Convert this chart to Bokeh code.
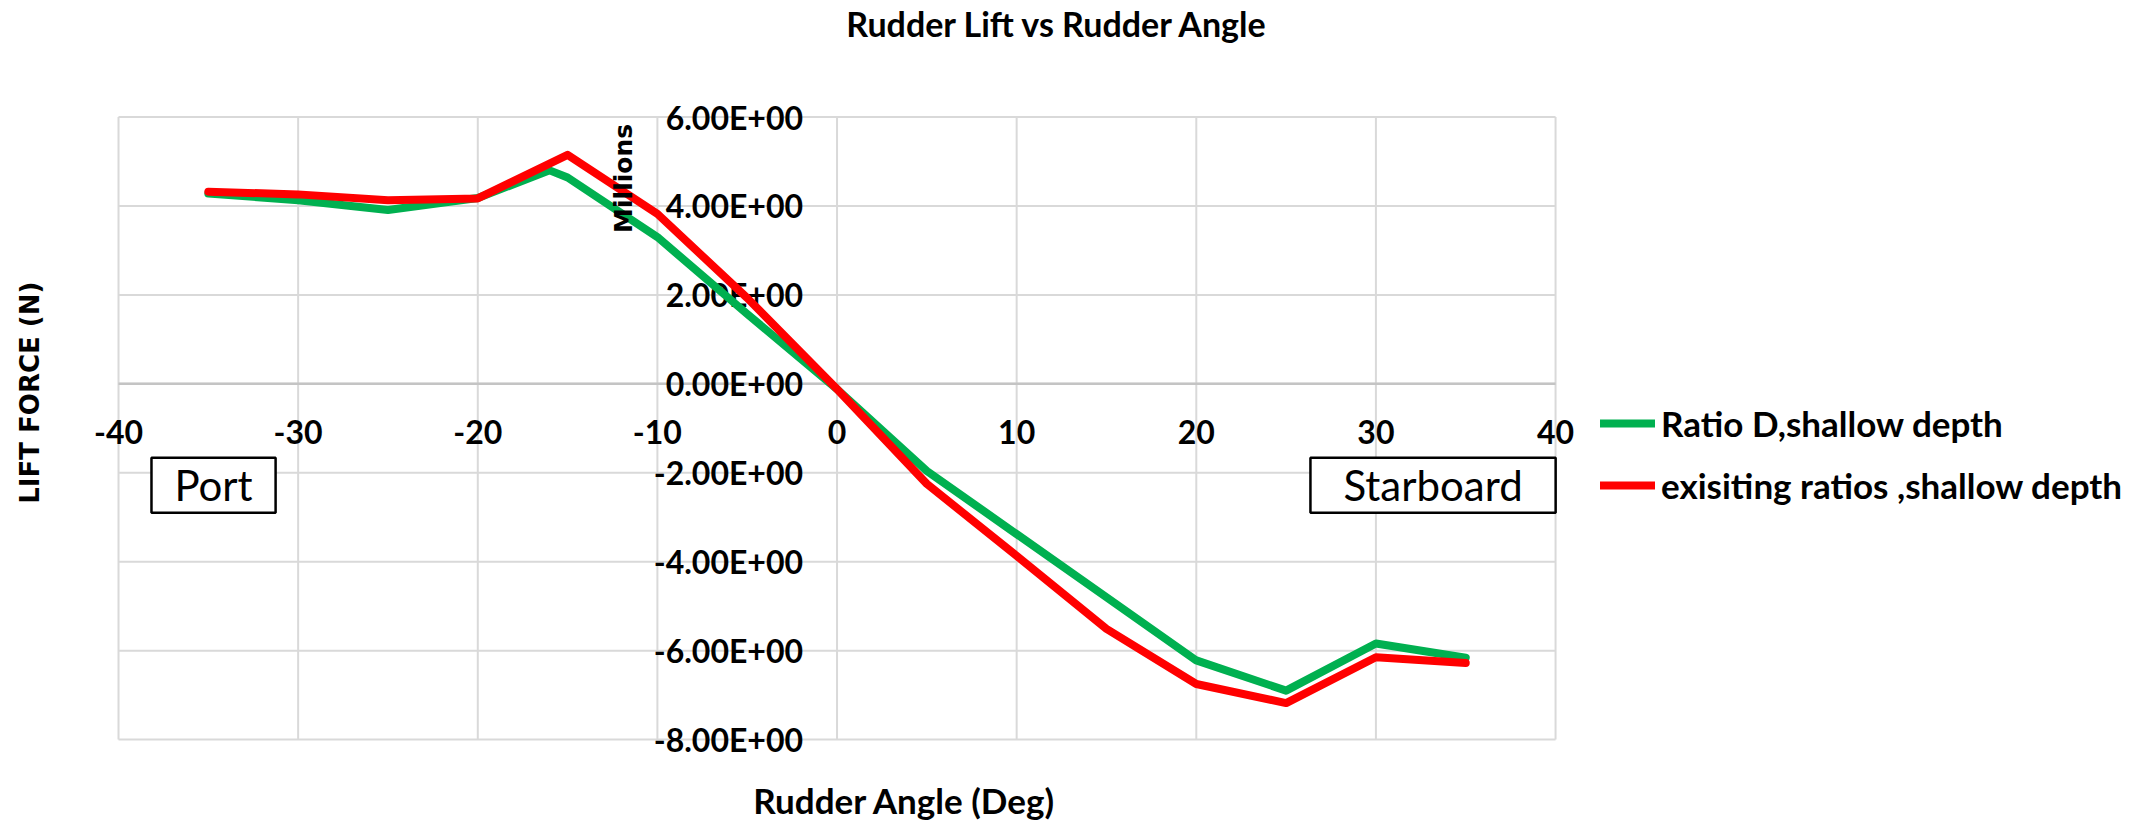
from bokeh.plotting import figure
from bokeh.models import (Range1d, LinearAxis, FixedTicker, Legend, LegendItem, Label)
from bokeh.core.properties import value
from bokeh.embed import file_html
from bokeh.resources import INLINE
import math

# ---- data (lift in millions of N) ----
angle_ratio_d = [-35, -30, -25, -20, -16, -15, -10, -5, 0, 5, 10, 15, 20, 25, 30, 35]
lift_ratio_d = [4.28, 4.13, 3.91, 4.18, 4.80, 4.64, 3.30, 1.57, -0.12, -1.96, -3.38, -4.80, -6.22, -6.90, -5.84, -6.16]

angle_existing = [-35, -30, -25, -20, -15, -10, -5, 0, 5, 10, 15, 20, 25, 30, 35]
lift_existing = [4.32, 4.26, 4.13, 4.17, 5.15, 3.82, 1.93, -0.12, -2.25, -3.87, -5.51, -6.75, -7.18, -6.15, -6.28]

series_names = ["Ratio D,shallow depth", "exisiting ratios ,shallow depth"]

x_ticks = [-40, -30, -20, -10, 0, 10, 20, 30, 40]
x_tick_labels = ["-40", "-30", "-20", "-10", "0", "10", "20", "30", "40"]
y_ticks = [-8, -6, -4, -2, 0, 2, 4, 6]
y_tick_labels = ["-8.00E+00", "-6.00E+00", "-4.00E+00", "-2.00E+00", "0.00E+00", "2.00E+00", "4.00E+00", "6.00E+00"]

GREEN = "#00B050"
RED = "#FF0000"
GRID = "#d9d9d9"
FONT = "Lato"

X_MIN, X_MAX = x_ticks[0], x_ticks[-1]
Y_MIN, Y_MAX = y_ticks[0], y_ticks[-1]

# the frame fills the whole figure; the chart area (-40..40, -8..6) sits inside it
p = figure(width=2148, height=820, output_backend="svg", toolbar_location=None,
           x_axis_type=None, y_axis_type=None,
           x_range=Range1d(-46.57, 73.01), y_range=Range1d(-9.82, 8.62),
           min_border_left=0, min_border_right=0, min_border_top=0, min_border_bottom=0)
p.outline_line_color = None
p.background_fill_color = "white"
p.border_fill_color = "white"

# grid lines limited to the chart area
p.segment(x0=x_ticks, y0=[Y_MIN] * len(x_ticks), x1=x_ticks, y1=[Y_MAX] * len(x_ticks),
          line_color=GRID, line_width=2, level="underlay")
p.segment(x0=[X_MIN] * len(y_ticks), y0=y_ticks, x1=[X_MAX] * len(y_ticks), y1=y_ticks,
          line_color=GRID, line_width=2, level="underlay")
p.segment(x0=[X_MIN], y0=[0], x1=[X_MAX], y1=[0], line_color="#c4c4c4", line_width=2.5, level="underlay")

def style_axis(ax):
    for k, v in dict(major_label_background_fill_color="white").items():
        try:
            setattr(ax, k, v)
        except Exception:
            pass

xaxis = LinearAxis(fixed_location=0, ticker=FixedTicker(ticks=x_ticks), bounds=(X_MIN, X_MAX),
                   major_label_overrides={t: l for t, l in zip(x_ticks, x_tick_labels)},
                   axis_line_color=None,
                   major_tick_line_color=None, minor_tick_line_color=None,
                   major_label_standoff=30,
                   major_label_text_font=FONT, major_label_text_font_style="bold",
                   major_label_text_font_size="32px", major_label_text_color="black")
xaxis.level = "glyph"
style_axis(xaxis)
p.add_layout(xaxis, "below")

yaxis = LinearAxis(fixed_location=0, ticker=FixedTicker(ticks=y_ticks), bounds=(Y_MIN, Y_MAX),
                   major_label_overrides={t: l for t, l in zip(y_ticks, y_tick_labels)},
                   axis_line_color=None,
                   major_tick_line_color=None, minor_tick_line_color=None,
                   major_label_standoff=28,
                   major_label_text_font=FONT, major_label_text_font_style="bold",
                   major_label_text_font_size="32px", major_label_text_color="black")
yaxis.level = "glyph"
style_axis(yaxis)
p.add_layout(yaxis, "left")

r1 = p.line(angle_ratio_d, lift_ratio_d, line_color=GREEN, line_width=8,
            line_join="round", line_cap="round", level="annotation")
r2 = p.line(angle_existing, lift_existing, line_color=RED, line_width=8,
            line_join="round", line_cap="round", level="annotation")

legend = Legend(items=[LegendItem(label=series_names[0], renderers=[r1]),
                       LegendItem(label=series_names[1], renderers=[r2])],
                location=(1600, 304), padding=0, margin=0, spacing=0,
                glyph_width=55, glyph_height=62, label_height=62, label_standoff=6,
                label_text_font=FONT, label_text_font_style="bold", label_text_font_size="35px",
                label_text_color="black",
                border_line_alpha=0, background_fill_alpha=0)
p.add_layout(legend)

# Port / Starboard boxes
p.rect(x=[-34.71, 33.18], y=[-2.28, -2.28], width=[6.91, 13.65], height=[1.236, 1.236],
       fill_color="white", line_color="black", line_width=2.5)
p.text(x=[-34.71, 33.18], y=[-2.28, -2.28], text=["Port", "Starboard"],
       text_font=value(FONT), text_font_size="42px", text_align="center", text_baseline="middle",
       text_color="black")

def lab(text, x, y, size, font=FONT, angle=0.0):
    p.add_layout(Label(x=x, y=y, text=text, text_font=font, text_font_style="bold",
                       text_font_size=size, text_align="center", text_baseline="middle",
                       angle=angle, text_color="black"))

lab("Rudder Lift vs Rudder Angle", 12.28, 8.10, "34px")
lab("Rudder Angle (Deg)", 3.76, -9.35, "35px")
lab("LIFT FORCE (N)", -44.9, -0.2, "26px", font="DejaVu Sans", angle=math.pi / 2)
lab("Millions", -11.89, 4.62, "25px", font="DejaVu Sans", angle=math.pi / 2)

open("out.html", "w").write(file_html(p, INLINE))
